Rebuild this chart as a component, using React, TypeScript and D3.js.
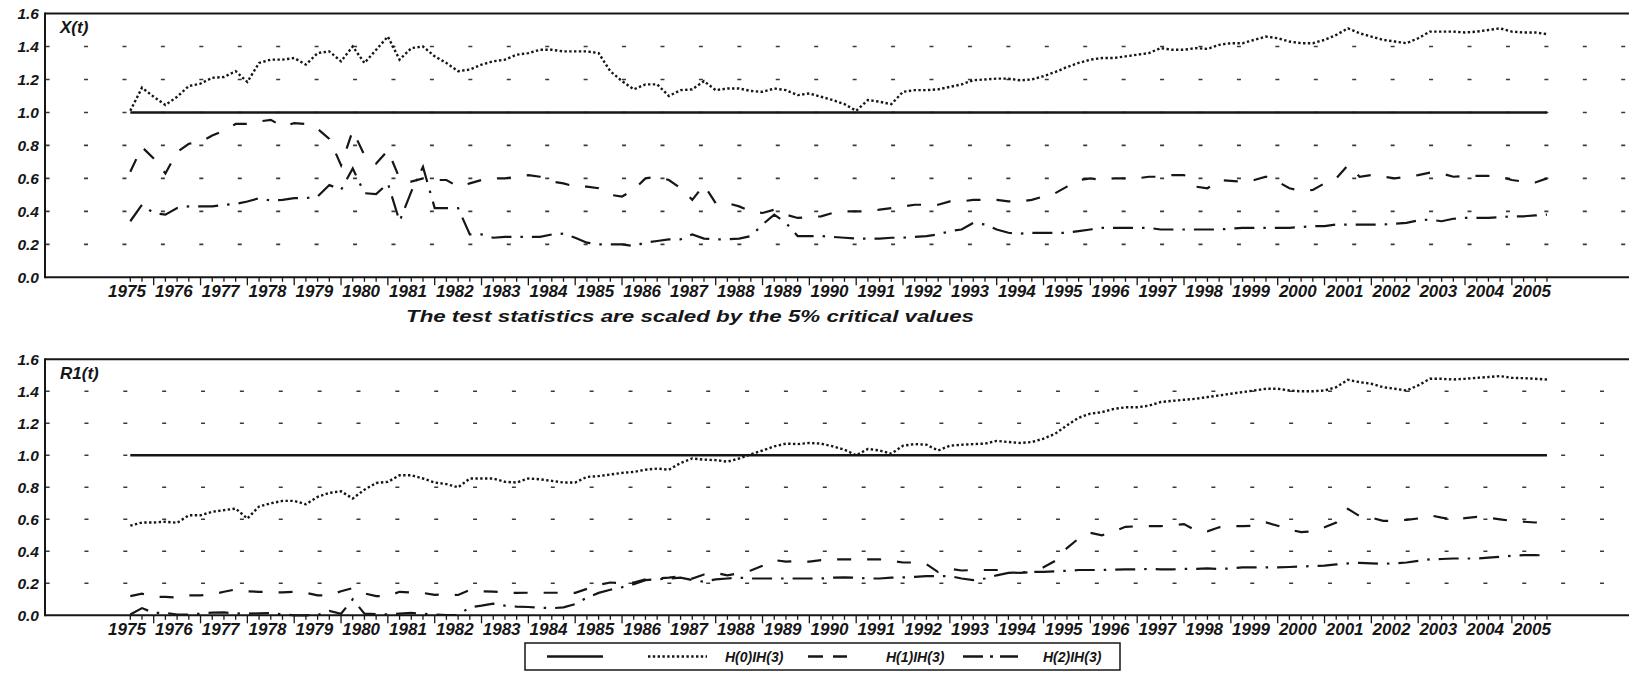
import React from "react";
import * as d3 from "d3";

// quarterly observations, 1975Q3 .. 2005Q4
const START = 1975.5;
const STEP = 0.25;
const yearLabels = d3.range(1975, 2006);
const yTicks = [0, 0.2, 0.4, 0.6, 0.8, 1.0, 1.2, 1.4, 1.6];
const gridValues = [0.2, 0.4, 0.6, 0.8, 1.0, 1.2, 1.4];
const criticalLevel = 1.0;

const xH0 = [
  1.01, 1.15,
  1.095, 1.045, 1.095, 1.16,
  1.175, 1.21, 1.215, 1.25,
  1.185, 1.3, 1.32, 1.32,
  1.33, 1.29, 1.36, 1.37,
  1.31, 1.4, 1.3, 1.38,
  1.46, 1.32, 1.39, 1.4,
  1.34, 1.3, 1.25, 1.26,
  1.29, 1.31, 1.32, 1.35,
  1.36, 1.38, 1.38, 1.37,
  1.37, 1.37, 1.36, 1.25,
  1.19, 1.14, 1.17, 1.17,
  1.1, 1.135, 1.14, 1.19,
  1.135, 1.145, 1.145, 1.13,
  1.125, 1.145, 1.135, 1.105,
  1.115, 1.095, 1.075, 1.05,
  1.01, 1.075, 1.065, 1.05,
  1.125, 1.135, 1.135, 1.14,
  1.155, 1.17, 1.195, 1.2,
  1.205, 1.205, 1.195, 1.2,
  1.22, 1.245, 1.275, 1.3,
  1.32, 1.33, 1.33, 1.34,
  1.35, 1.36, 1.39, 1.38,
  1.38, 1.39, 1.385, 1.41,
  1.42, 1.42, 1.44, 1.46,
  1.45, 1.43, 1.42, 1.42,
  1.44, 1.47, 1.51, 1.48,
  1.46, 1.44, 1.43, 1.42,
  1.45, 1.49, 1.49, 1.49,
  1.485, 1.49, 1.5, 1.51,
  1.49, 1.485, 1.485, 1.475,
];

const xH1 = [
  0.64, 0.79,
  0.72, 0.63, 0.76, 0.81,
  0.82, 0.86, 0.89, 0.93,
  0.93, 0.945, 0.955, 0.915,
  0.935, 0.93, 0.9, 0.84,
  0.68, 0.89, 0.74, 0.69,
  0.77, 0.6, 0.58, 0.6,
  0.59, 0.59, 0.55, 0.57,
  0.59, 0.6, 0.6, 0.61,
  0.62, 0.61, 0.58, 0.57,
  0.55, 0.55, 0.54, 0.5,
  0.49, 0.53, 0.6, 0.61,
  0.59, 0.54, 0.47, 0.56,
  0.45, 0.45, 0.43, 0.4,
  0.39, 0.41, 0.38, 0.36,
  0.365, 0.37, 0.39, 0.4,
  0.4, 0.4, 0.41, 0.42,
  0.43, 0.44, 0.44, 0.44,
  0.46, 0.46, 0.47, 0.47,
  0.47, 0.46, 0.46, 0.47,
  0.49, 0.51, 0.55, 0.59,
  0.6, 0.59, 0.6, 0.6,
  0.6, 0.61, 0.61, 0.62,
  0.62, 0.55, 0.54, 0.59,
  0.585, 0.58, 0.59, 0.61,
  0.58, 0.54, 0.525, 0.53,
  0.57, 0.6, 0.68, 0.61,
  0.62, 0.61, 0.6, 0.61,
  0.62, 0.635, 0.63, 0.61,
  0.615, 0.615, 0.615, 0.61,
  0.59, 0.58, 0.575, 0.6,
];

const xH2 = [
  0.34, 0.44,
  0.39, 0.38, 0.42, 0.43,
  0.43, 0.43, 0.44, 0.445,
  0.46, 0.48, 0.465, 0.47,
  0.48, 0.48, 0.49, 0.56,
  0.53, 0.66, 0.51, 0.505,
  0.57, 0.34, 0.52, 0.67,
  0.42, 0.42, 0.42, 0.26,
  0.26, 0.24, 0.245, 0.245,
  0.245, 0.245, 0.26, 0.265,
  0.24, 0.21, 0.2, 0.2,
  0.2, 0.19, 0.21, 0.22,
  0.23, 0.23, 0.26, 0.235,
  0.23, 0.23, 0.235, 0.25,
  0.32, 0.38, 0.33, 0.25,
  0.25, 0.25, 0.245, 0.24,
  0.235, 0.235, 0.235, 0.24,
  0.24, 0.245, 0.25, 0.26,
  0.28, 0.29, 0.33, 0.32,
  0.29, 0.27, 0.265, 0.27,
  0.27, 0.27, 0.27, 0.28,
  0.29, 0.3, 0.3, 0.3,
  0.3, 0.3, 0.29, 0.29,
  0.29, 0.29, 0.29, 0.29,
  0.295, 0.3, 0.3, 0.3,
  0.3, 0.3, 0.305, 0.31,
  0.31, 0.32, 0.32, 0.32,
  0.32, 0.32, 0.325, 0.33,
  0.345, 0.35, 0.34, 0.355,
  0.36, 0.36, 0.36, 0.365,
  0.37, 0.37, 0.375, 0.38,
];

const r1H0 = [
  0.56, 0.58,
  0.58, 0.585, 0.578, 0.625,
  0.625, 0.647, 0.657, 0.667,
  0.605, 0.68, 0.7, 0.715,
  0.715, 0.694, 0.74, 0.765,
  0.775, 0.73, 0.785, 0.827,
  0.834, 0.875, 0.875, 0.855,
  0.83, 0.82, 0.8, 0.855,
  0.855, 0.855, 0.834, 0.83,
  0.855, 0.85, 0.84, 0.83,
  0.83, 0.865, 0.87, 0.88,
  0.89, 0.896, 0.91, 0.917,
  0.91, 0.952, 0.98, 0.973,
  0.97, 0.96, 0.98, 1.006,
  1.03, 1.056, 1.073, 1.07,
  1.077, 1.073, 1.056, 1.035,
  1.0, 1.04, 1.03, 1.01,
  1.06, 1.07, 1.066, 1.03,
  1.06, 1.066, 1.07, 1.073,
  1.09, 1.083, 1.077, 1.083,
  1.104, 1.135, 1.187, 1.235,
  1.26, 1.27, 1.29, 1.3,
  1.3, 1.31, 1.333, 1.34,
  1.347, 1.353, 1.364, 1.374,
  1.385, 1.395, 1.405, 1.416,
  1.416, 1.405, 1.4, 1.4,
  1.405, 1.426, 1.472, 1.457,
  1.447, 1.426, 1.416, 1.405,
  1.437, 1.478, 1.478, 1.474,
  1.478, 1.484, 1.489, 1.495,
  1.484, 1.482, 1.478, 1.474,
];

const r1H1 = [
  0.12, 0.135,
  0.115, 0.115, 0.11, 0.125,
  0.125, 0.13, 0.147, 0.162,
  0.15, 0.147, 0.145, 0.143,
  0.147, 0.14, 0.125, 0.125,
  0.15, 0.17, 0.137, 0.12,
  0.12, 0.147, 0.143, 0.14,
  0.128, 0.13, 0.127, 0.158,
  0.15, 0.148, 0.143, 0.14,
  0.141, 0.141, 0.141, 0.141,
  0.14, 0.165, 0.19, 0.205,
  0.2, 0.205, 0.225, 0.23,
  0.235, 0.245, 0.23, 0.255,
  0.265, 0.25, 0.262, 0.28,
  0.31, 0.345, 0.335, 0.34,
  0.335, 0.345, 0.35, 0.35,
  0.35, 0.35, 0.35, 0.34,
  0.33, 0.33, 0.32, 0.27,
  0.29, 0.28, 0.283, 0.283,
  0.283, 0.268, 0.265, 0.27,
  0.3, 0.34, 0.42, 0.48,
  0.515, 0.5, 0.525, 0.553,
  0.556, 0.557, 0.557, 0.563,
  0.57, 0.53, 0.525, 0.55,
  0.557, 0.557, 0.56, 0.58,
  0.56, 0.535, 0.52, 0.525,
  0.55, 0.58, 0.665, 0.62,
  0.61, 0.59, 0.59, 0.597,
  0.605, 0.625, 0.61, 0.6,
  0.607, 0.615, 0.61, 0.6,
  0.59, 0.585, 0.58, 0.585,
];

const r1H2 = [
  0.005, 0.045,
  0.015, 0.015, 0.005, 0.005,
  0.01, 0.017, 0.018, 0.012,
  0.01, 0.012, 0.015, 0.005,
  0.0, 0.0, 0.002, 0.027,
  0.01, 0.1, 0.01, 0.008,
  0.005, 0.01, 0.015, 0.01,
  0.005, 0.002, 0.002, 0.05,
  0.06, 0.073, 0.06, 0.054,
  0.052, 0.048, 0.044, 0.05,
  0.07, 0.11, 0.14, 0.16,
  0.175, 0.195, 0.22, 0.225,
  0.23, 0.235, 0.22, 0.21,
  0.225, 0.23, 0.235, 0.23,
  0.23, 0.23, 0.23, 0.23,
  0.23, 0.23, 0.235, 0.237,
  0.235, 0.23, 0.23, 0.235,
  0.237, 0.24, 0.245, 0.245,
  0.245, 0.23, 0.22, 0.23,
  0.25, 0.265, 0.268, 0.272,
  0.272, 0.275, 0.278, 0.283,
  0.283, 0.283, 0.285, 0.287,
  0.287, 0.29, 0.287, 0.287,
  0.29, 0.29, 0.293, 0.29,
  0.293, 0.3, 0.3, 0.3,
  0.3, 0.302, 0.305, 0.308,
  0.31, 0.318, 0.324, 0.328,
  0.325, 0.322, 0.325, 0.33,
  0.34, 0.35, 0.352, 0.355,
  0.355, 0.355, 0.36, 0.366,
  0.372, 0.376, 0.376, 0.374,
];

const legendLabels = ["H(0)IH(3)", "H(1)IH(3)", "H(2)IH(3)"];
const panelTitles = ["X(t)", "R1(t)"];
const subtitle = "The test statistics are scaled by the 5% critical values";

const W = 1629;
const H = 673;
const LEFT = 45;
const RIGHT = 1628;
const FONT = "'Liberation Sans', Arial, Helvetica, sans-serif";
const INK = "#161616";

const STYLES = {
  crit: { dash: "none", width: 2.4 },
  h0: { dash: "2.4 2.4", width: 2.4 },
  h1: { dash: "14 16", width: 2.2 },
  h2: { dash: "20 9 2.5 9", width: 2.2 },
};

const x = d3.scaleLinear().domain([1973.679, 2007.48]).range([LEFT, RIGHT]);
const tOf = (i: number) => START + i * STEP;
const lastT = START + (xH0.length - 1) * STEP;

const quarterTicks = d3.range(START, lastT + 0.001, STEP);

type PanelProps = {
  top: number;
  bottom: number;
  title: string;
  series: number[][];
  gridStep: number;
};

function Panel({ top, bottom, title, series, gridStep }: PanelProps) {
  const y = d3.scaleLinear().domain([0, 1.6]).range([bottom, top]);
  const line = d3
    .line<number>()
    .x((_, i) => x(tOf(i)))
    .y((d) => y(d));
  const styles = [STYLES.h0, STYLES.h1, STYLES.h2];
  return (
    <g>
      {gridValues.map((v) => (
        <line
          key={"g" + v}
          x1={LEFT + 0.6}
          x2={RIGHT}
          y1={y(v)}
          y2={y(v)}
          stroke="#3a3a3a"
          strokeWidth={1.6}
          strokeDasharray={`4 ${gridStep - 4}`}
        />
      ))}
      <line
        x1={x(START)}
        x2={x(lastT)}
        y1={y(criticalLevel)}
        y2={y(criticalLevel)}
        stroke={INK}
        strokeWidth={STYLES.crit.width}
      />
      {series.map((s, k) => (
        <path
          key={"s" + k}
          d={line(s) || ""}
          fill="none"
          stroke={INK}
          strokeWidth={styles[k].width}
          strokeDasharray={styles[k].dash}
        />
      ))}
      <line x1={LEFT} x2={RIGHT + 1} y1={top} y2={top} stroke={INK} strokeWidth={2} />
      <line x1={LEFT} x2={RIGHT + 1} y1={bottom} y2={bottom} stroke={INK} strokeWidth={2} />
      <line x1={LEFT} x2={LEFT} y1={top - 1} y2={bottom + 1} stroke={INK} strokeWidth={2} />
      {yTicks.map((v) => (
        <text
          key={"y" + v}
          x={39}
          y={y(v)}
          textAnchor="end"
          dominantBaseline="central"
          fontFamily={FONT}
          fontWeight="bold"
          fontStyle="italic"
          fontSize={15.5}
          fill={INK}
        >
          {v.toFixed(1)}
        </text>
      ))}
      {quarterTicks.map((t) => {
        const major = Math.abs(t - Math.round(t)) < 1e-6;
        return (
          <line
            key={"t" + t}
            x1={x(t)}
            x2={x(t)}
            y1={bottom}
            y2={bottom + (major ? 8 : 4.5)}
            stroke={INK}
            strokeWidth={1.3}
          />
        );
      })}
      {yearLabels.map((yr) => (
        <text
          key={"yl" + yr}
          x={x(yr + 0.43)}
          y={bottom + 14}
          textAnchor="middle"
          dominantBaseline="central"
          fontFamily={FONT}
          fontWeight="bold"
          fontStyle="italic"
          fontSize={17}
          fill={INK}
        >
          {yr}
        </text>
      ))}
      <text
        x={60}
        y={top + 14}
        dominantBaseline="central"
        fontFamily={FONT}
        fontWeight="bold"
        fontStyle="italic"
        fontSize={17}
        fill={INK}
      >
        {title}
      </text>
    </g>
  );
}

function Legend() {
  const boxX = 525;
  const boxY = 643;
  const boxW = 595;
  const boxH = 27;
  const cy = boxY + boxH / 2;
  const items = [
    { x1: 547, x2: 603, style: STYLES.crit, label: "", lx: 0 },
    { x1: 648, x2: 707, style: STYLES.h0, label: legendLabels[0], lx: 725 },
    { x1: 808, x2: 847, style: { dash: "15 10", width: 2.4 }, label: legendLabels[1], lx: 886 },
    { x1: 963, x2: 1018, style: { dash: "20 7 3 7", width: 2.4 }, label: legendLabels[2], lx: 1043 },
  ];
  return (
    <g>
      <rect x={boxX} y={boxY} width={boxW} height={boxH} fill="white" stroke={INK} strokeWidth={1.5} />
      {items.map((it, i) => (
        <g key={i}>
          <line
            x1={it.x1}
            x2={it.x2}
            y1={cy}
            y2={cy}
            stroke={INK}
            strokeWidth={it.style.width}
            strokeDasharray={it.style.dash}
          />
          {it.label && (
            <text
              x={it.lx}
              y={cy}
              dominantBaseline="central"
              fontFamily={FONT}
              fontWeight="bold"
              fontStyle="italic"
              fontSize={14}
              fill={INK}
            >
              {it.label}
            </text>
          )}
        </g>
      ))}
    </g>
  );
}

export default function App() {
  return (
    <svg
      width={W}
      height={H}
      viewBox={`0 0 ${W} ${H}`}
      style={{ position: "absolute", left: 0, top: 0, background: "white" }}
    >
      <rect x={0} y={0} width={W} height={H} fill="white" />
      <Panel top={13.5} bottom={277.3} title={panelTitles[0]} series={[xH0, xH1, xH2]} gridStep={38.43} />
      <text
        x={690}
        y={316}
        textAnchor="middle"
        dominantBaseline="central"
        fontFamily={FONT}
        fontWeight="bold"
        fontStyle="italic"
        fontSize={16}
        textLength={568}
        lengthAdjust="spacingAndGlyphs"
        fill={INK}
      >
        {subtitle}
      </text>
      <Panel top={359.3} bottom={615.3} title={panelTitles[1]} series={[r1H0, r1H1, r1H2]} gridStep={38.86} />
      <Legend />
    </svg>
  );
}
